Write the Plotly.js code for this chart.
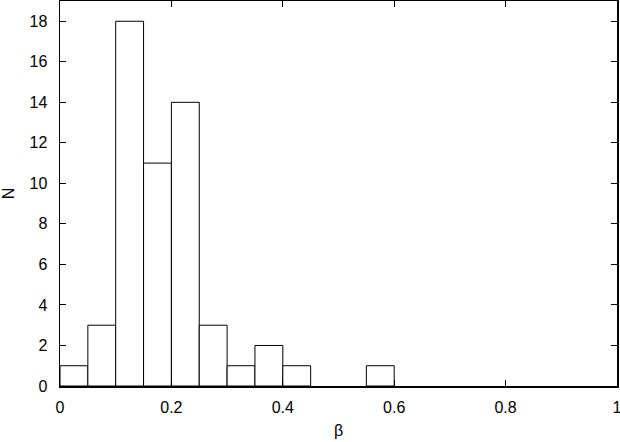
<!DOCTYPE html>
<html>
<head>
<meta charset="utf-8">
<script src="https://cdn.plot.ly/plotly-3.0.1.min.js"></script>
<style>html,body{margin:0;padding:0;background:#fff}#chart{width:620px;height:442px}</style>
</head>
<body>
<div id="chart"></div>
<script>
const binCenters = [0.025, 0.075, 0.125, 0.175, 0.225, 0.275, 0.325, 0.375, 0.425, 0.475, 0.525, 0.575];
const counts = [1, 3, 18, 11, 14, 3, 1, 2, 1, 0, 0, 1];
const binWidth = 0.05;
const xTicks = [0, 0.2, 0.4, 0.6, 0.8, 1];
const xTickLabels = ['0', '0.2', '0.4', '0.6', '0.8', '1'];
const yTicks = [0, 2, 4, 6, 8, 10, 12, 14, 16, 18];

const xs = [], ys = [];
binCenters.forEach((c, i) => { if (counts[i] > 0) { xs.push(c); ys.push(counts[i]); } });

const trace = {
  type: 'bar',
  x: xs,
  y: ys,
  width: binWidth,
  marker: {color: '#ffffff', line: {color: '#000000', width: 1}},
  hoverinfo: 'none'
};

const font = {family: 'Liberation Sans, Arial, sans-serif', size: 16, color: '#000'};
const layout = {
  width: 620, height: 442,
  margin: {l: 60, r: 3, t: 1, b: 56},
  paper_bgcolor: '#fff', plot_bgcolor: '#fff',
  showlegend: false,
  bargap: 0,
  font: font,
  xaxis: {
    range: [0, 1], tickvals: xTicks, ticktext: xTickLabels,
    ticks: 'inside', ticklen: 6, tickwidth: 1, tickcolor: '#000',
    showline: true, linecolor: '#000', linewidth: 1.5, mirror: 'allticks',
    showgrid: false, zeroline: false, ticklabelstandoff: 6,
    ticklabeloverflow: 'allow',
    title: {text: 'β', font: font, standoff: 10}
  },
  yaxis: {
    range: [0, 19], tickvals: yTicks,
    ticks: 'inside', ticklen: 6, tickwidth: 1, tickcolor: '#000',
    showline: true, linecolor: '#000', linewidth: 1.5, mirror: 'allticks',
    showgrid: false, zeroline: false, ticklabelstandoff: 8,
    ticklabeloverflow: 'allow',
    title: {text: 'N', font: font, standoff: 14}
  }
};
Plotly.newPlot('chart', [trace], layout, {staticPlot: true, displayModeBar: false});
</script>
</body>
</html>
